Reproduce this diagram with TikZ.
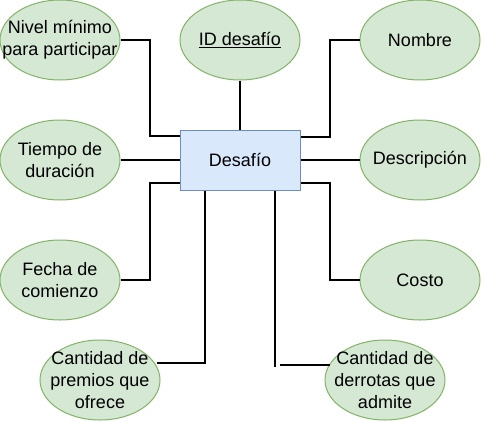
\documentclass[tikz,border=0pt]{standalone}
\usepackage{fontspec}
\setmainfont{Liberation Sans}
\usepackage{xcolor}
\usetikzlibrary{shapes.geometric}

\definecolor{attrfill}{HTML}{D5E8D4}
\definecolor{attrline}{HTML}{82B366}
\definecolor{entfill}{HTML}{DAE8FC}
\definecolor{entline}{HTML}{6C8EBF}

\tikzset{
  attr/.style={ellipse, draw=attrline, fill=attrfill, line width=0.75pt,
    minimum width=90pt, minimum height=60pt, inner sep=-15pt, align=center,
    font=\fontsize{13.5}{16.2}\selectfont},
  entity/.style={rectangle, draw=entline, fill=entfill, line width=0.75pt,
    minimum width=90pt, minimum height=45pt, inner sep=0pt,
    font=\fontsize{13.5}{16.2}\selectfont},
  conn/.style={line width=1.1pt, draw=black}
}

\begin{document}
\begin{tikzpicture}[x=0.75pt, y=-0.75pt]
  \useasboundingbox (0,0) rectangle (481,421);

  % Entity
  \node[entity] (desafio) at (240,160) {Desafío};

  % Attributes
  \node[attr] (nivel) at (60,40) {Nivel mínimo\\para participar};
  \node[attr] (id) at (240,40) {\underline{ID desafío}};
  \node[attr] (nombre) at (420,40) {Nombre};
  \node[attr] (tiempo) at (60,160) {Tiempo de\\duración};
  \node[attr] (descr) at (420,160) {Descripción};
  \node[attr] (fecha) at (60,280) {Fecha de\\comienzo};
  \node[attr] (costo) at (420,280) {Costo};
  \node[attr] (premios) at (100,380) {Cantidad de\\premios que\\ofrece};
  \node[attr] (derrotas) at (385,380) {Cantidad de\\derrotas que\\admite};

  % Connectors
  \draw[conn] (nivel.east) -| (150,136) -- (desafio.west |- 0,136);
  \draw[conn] (id) -- (desafio);
  \draw[conn] (nombre.west) -| (330,137) -- (desafio.east |- 0,137);
  \draw[conn] (tiempo) -- (desafio);
  \draw[conn] (descr) -- (desafio);
  \draw[conn] (fecha.east) -| (150,183) -- (desafio.west |- 0,183);
  \draw[conn] (costo.west) -| (330,183) -- (desafio.east |- 0,183);
  \draw[conn] (desafio.south -| 205,0) -- (205,363) -- (157,363);
  \coordinate (gap) at (275,367);
  \draw[conn] (desafio.south -| 275,0) -- (gap);
  \draw[conn] (280,365) -- (330,365); % to derrotas
\end{tikzpicture}
\end{document}
